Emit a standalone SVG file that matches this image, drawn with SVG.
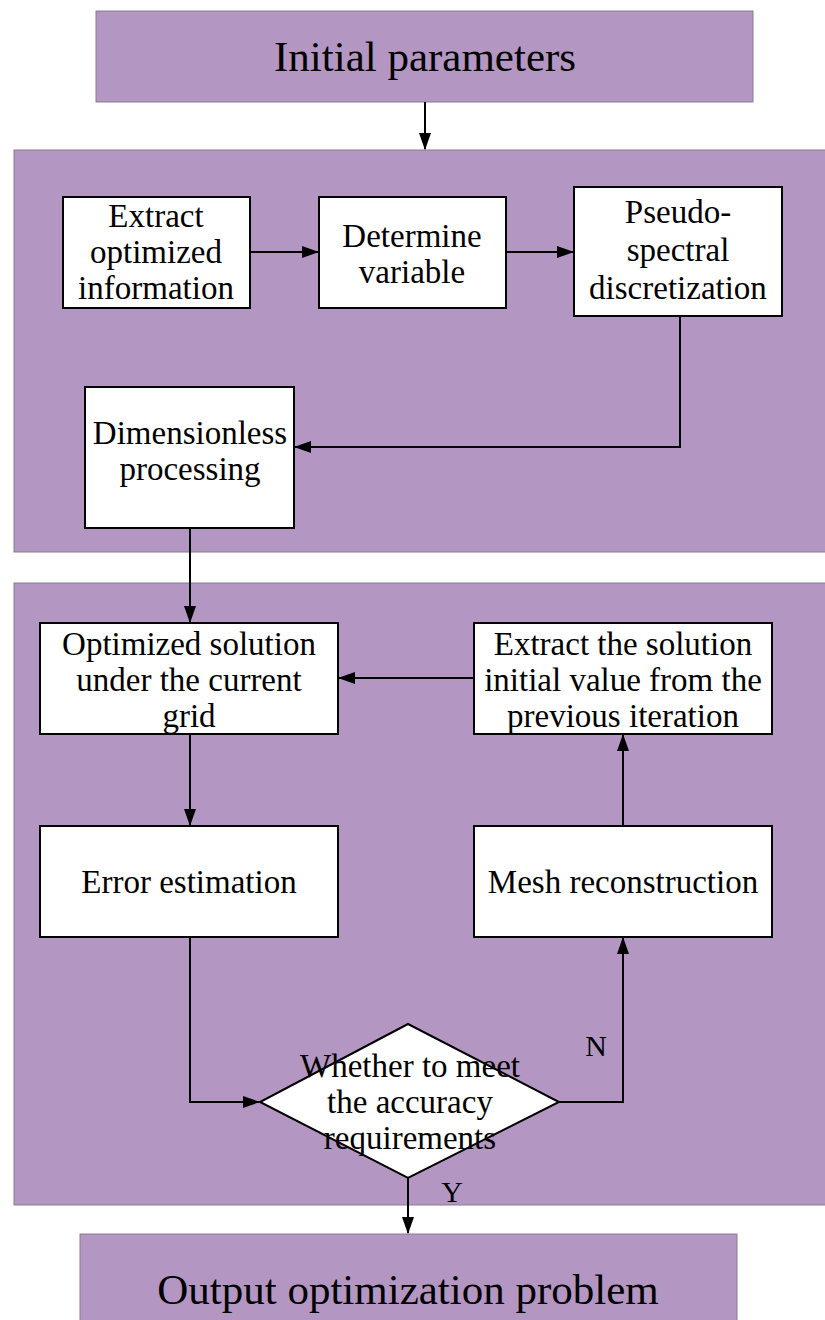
<svg xmlns="http://www.w3.org/2000/svg" width="825" height="1320" viewBox="0 0 825 1320">
<style>
.panel{fill:#b396c1;stroke:#8a7a92;stroke-width:1}
.box{fill:#ffffff;stroke:#000;stroke-width:2}
.t{font-family:"Liberation Serif",serif;fill:#000;text-anchor:middle}
.big{font-size:43px}
.mid{font-size:33px}
.lbl{font-size:30px}
.edge{fill:none;stroke:#000;stroke-width:2}
</style>
<defs>
<marker id="ah" markerWidth="17" markerHeight="12" refX="16" refY="6" orient="auto" markerUnits="userSpaceOnUse">
<path d="M0,0 L17,6 L0,12 Z" fill="#000"/>
</marker>
</defs>
<rect width="825" height="1320" fill="#ffffff"/>
<g id="panel-upper"><rect class="panel" x="14" y="150" width="820" height="402"/></g>
<g id="panel-lower"><rect class="panel" x="14" y="583" width="820" height="622"/></g>

<g id="initial"><rect class="panel" x="96" y="11" width="657" height="91"/>
<text class="t big" x="425" y="71">Initial parameters</text></g>

<g id="extract"><rect class="box" x="63" y="197" width="187" height="111"/>
<text class="t mid" x="156" y="227">Extract</text><text class="t mid" x="156" y="263">optimized</text><text class="t mid" x="156" y="299">information</text></g>

<g id="determine"><rect class="box" x="319" y="197" width="187" height="111"/>
<text class="t mid" x="412" y="247">Determine</text><text class="t mid" x="412" y="283">variable</text></g>

<g id="pseudo"><rect class="box" x="574" y="187" width="208" height="129"/>
<text class="t mid" x="678" y="223">Pseudo-</text><text class="t mid" x="678" y="261">spectral</text><text class="t mid" x="678" y="299">discretization</text></g>

<g id="dimensionless"><rect class="box" x="85" y="387" width="209" height="141"/>
<text class="t mid" x="190" y="444">Dimensionless</text><text class="t mid" x="190" y="480">processing</text></g>

<g id="optimized"><rect class="box" x="40" y="623" width="298" height="111"/>
<text class="t mid" x="189" y="655">Optimized solution</text><text class="t mid" x="189" y="691">under the current</text><text class="t mid" x="189" y="727">grid</text></g>

<g id="extract-solution"><rect class="box" x="474" y="623" width="298" height="111"/>
<text class="t mid" x="623" y="655">Extract the solution</text><text class="t mid" x="623" y="691">initial value from the</text><text class="t mid" x="623" y="727">previous iteration</text></g>

<g id="error"><rect class="box" x="40" y="826" width="298" height="111"/>
<text class="t mid" x="189" y="893">Error estimation</text></g>

<g id="mesh"><rect class="box" x="474" y="826" width="298" height="111"/>
<text class="t mid" x="623" y="893">Mesh reconstruction</text></g>

<g id="decision"><polygon class="box" points="408,1024 559,1102 408,1178 260,1102"/>
<text class="t mid" x="410" y="1077">Whether to meet</text><text class="t mid" x="410" y="1113">the accuracy</text><text class="t mid" x="410" y="1149">requirements</text></g>

<g id="output"><rect class="panel" x="80" y="1234" width="657" height="100"/>
<text class="t big" x="408" y="1304">Output optimization problem</text></g>

<g id="connectors">
<path class="edge" d="M425,102 L425,149" marker-end="url(#ah)"/>
<path class="edge" d="M250,252 L318,252" marker-end="url(#ah)"/>
<path class="edge" d="M506,252 L573,252" marker-end="url(#ah)"/>
<path class="edge" d="M680,316 L680,447 L295,447" marker-end="url(#ah)"/>
<path class="edge" d="M190,528 L190,622" marker-end="url(#ah)"/>
<path class="edge" d="M474,678 L339,678" marker-end="url(#ah)"/>
<path class="edge" d="M190,734 L190,825" marker-end="url(#ah)"/>
<path class="edge" d="M623,826 L623,735" marker-end="url(#ah)"/>
<path class="edge" d="M190,937 L190,1102 L259,1102" marker-end="url(#ah)"/>
<path class="edge" d="M559,1102 L623,1102 L623,938" marker-end="url(#ah)"/>
<path class="edge" d="M408,1178 L408,1233" marker-end="url(#ah)"/>
<text class="t lbl" x="596" y="1056">N</text>
<text class="t lbl" x="452" y="1202">Y</text>
</g>
</svg>
